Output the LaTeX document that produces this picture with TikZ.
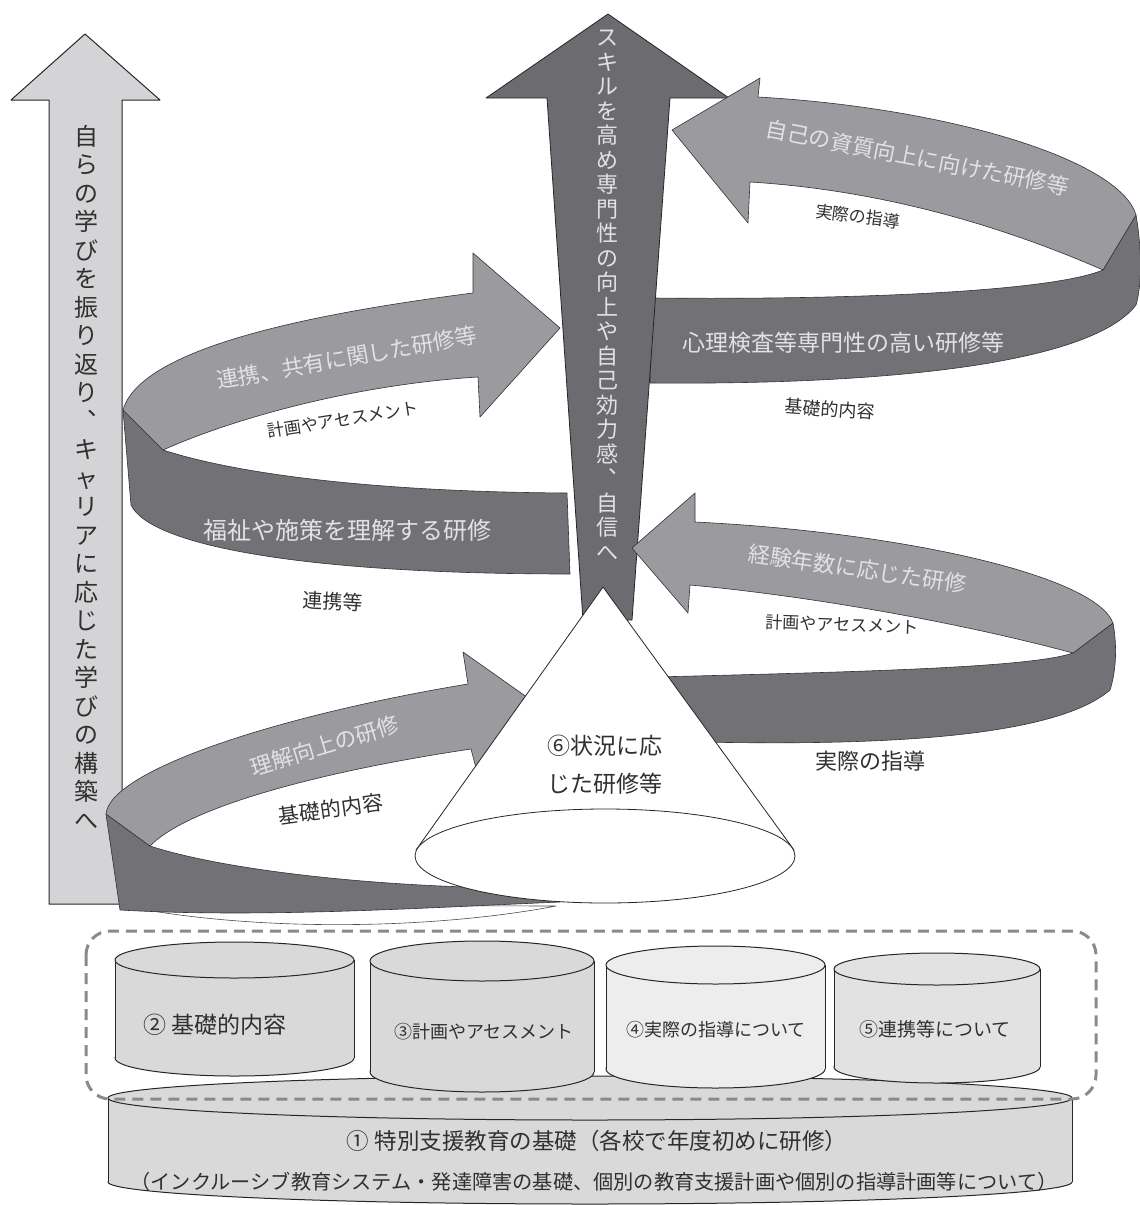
\documentclass[tikz,border=0pt]{standalone}
\usepackage{fontspec}
\setmainfont{Noto Sans CJK JP}
\usetikzlibrary{positioning}
\definecolor{sidegray}{HTML}{D4D4D6}
\definecolor{spinegray}{HTML}{6C6C70}
\definecolor{frontgray}{HTML}{9B9B9F}
\definecolor{backgray}{HTML}{727276}
\definecolor{inkgray}{HTML}{303030}
\definecolor{palegray}{HTML}{E2E2E2}
\definecolor{dashgray}{HTML}{8A8A8A}
\definecolor{drumA}{HTML}{D9D9D9}
\definecolor{drumB}{HTML}{EDEDED}
\definecolor{drumC}{HTML}{E2E2E2}
\newcommand\vcomma{\makebox[1em][l]{\hspace{.55em}\raisebox{.6em}{、}}}
\newcommand\fs[1]{\fontsize{#1}{#1}\selectfont}
% drum: left, right, top centre y, bottom centre y, y radius, fill
\newcommand\drum[6]{%
  \path[fill=#6,draw=black!85,line width=1pt] ({(#1+#2)/2},#4) ellipse[x radius={(#2-#1)/2},y radius=#5];
  \fill[#6] (#1,#3) rectangle (#2,#4);
  \draw[black!85,line width=1pt] (#1,#3)--(#1,#4) (#2,#3)--(#2,#4);
  \path[fill=#6,draw=black!85,line width=1pt] ({(#1+#2)/2},#3) ellipse[x radius={(#2-#1)/2},y radius=#5];}

\begin{document}
\begin{tikzpicture}[x=1pt,y=-1pt,line join=round,font=\fs{20},
  arrowline/.style={draw=black!85,line width=1pt},
  backband/.style={fill=backgray,draw=black!80,line width=.6pt},
  frontband/.style={fill=frontgray,draw=black!80,line width=.6pt},
  vcol/.style={inner sep=0pt,align=center},
  pale/.style={text=palegray,inner sep=0pt,text height=14pt,text depth=2pt},
  ink/.style={text=inkgray,inner sep=0pt,text height=14pt,text depth=2pt}]
\useasboundingbox (0,0) rectangle (1140,1205);

% left arrow
\path[fill=sidegray,arrowline] (85,34) -- (160,100) -- (122,100) -- (122,904) -- (49,904) -- (49,100) -- (11,100) -- cycle;
\node[vcol,text=inkgray,font=\fontsize{24}{28.5}\selectfont] (rise) at (86,477)
  {自\\ら\\の\\学\\び\\を\\振\\り\\返\\り\\\vcomma\\キ\\ャ\\リ\\ア\\に\\応\\じ\\た\\学\\び\\の\\構\\築\\へ};

% back halves of the ribbons
\path[fill=white,draw=black!70,line width=.6pt] (120,905) .. controls (250,932) and (430,930) .. (556,906) -- cycle;
\path[backband] (106,814) -- (120,910) .. controls (260,918) and (420,908) .. (560,902) -- (560,888) .. controls (400,890) and (230,872) .. (150,846) -- cycle;
\path[backband] (123,410) -- (131,505) .. controls (150,545) and (300,574) .. (570,574) -- (567,493) .. controls (400,492) and (250,478) .. (163,450) -- cycle;
\path[backband] (1136,215) .. controls (1142,250) and (1142,285) .. (1136,305) .. controls (1090,365) and (880,385) .. (650,383) -- (653,298) .. controls (850,300) and (1050,292) .. (1103,270) -- cycle;
\path[backband] (1113,623) .. controls (1118,650) and (1115,675) .. (1110,690) .. controls (1050,742) and (850,745) .. (700,742) -- (655,677) .. controls (850,672) and (1030,668) .. (1073,653) -- cycle;

% central arrow
\path[fill=spinegray,arrowline,line width=.8pt] (608,14) -- (729,98) -- (670,98) -- (632,620) -- (583,620) -- (547,98) -- (486,98) -- cycle;
\node[vcol,text=palegray,font=\fontsize{22}{24.5}\selectfont] (skill) at (607,295)
  {ス\\キ\\ル\\を\\高\\め\\専\\門\\性\\の\\向\\上\\や\\自\\己\\効\\力\\感\\\vcomma\\自\\信\\へ};

% front halves with heads
\path[frontband] (106,814) .. controls (110,770) and (280,715) .. (468,684) -- (463,652) -- (548,712) -- (476,768) -- (471,749) .. controls (330,770) and (190,805) .. (150,846) -- cycle;
\path[frontband] (123,410) .. controls (140,350) and (300,315) .. (473,293) -- (473,253) -- (560,328) -- (480,417) -- (478,377) .. controls (350,385) and (230,420) .. (163,450) -- cycle;
\path[frontband] (758,97) .. controls (950,108) and (1120,160) .. (1136,215) -- (1103,270) .. controls (1000,225) and (880,190) .. (750,182) -- (748,223) -- (672,130) -- (760,78) -- cycle;
\path[frontband] (695,522) .. controls (900,532) and (1095,575) .. (1113,623) -- (1073,653) .. controls (950,620) and (800,595) .. (690,585) -- (688,613) -- (632,548) -- (695,493) -- cycle;

% cone
\path[fill=white,draw=black!85,line width=.8pt] (416,850) -- (603,587) -- (794,850) -- cycle;
\path[fill=white,draw=black!85,line width=.8pt] (605,856) ellipse[x radius=190,y radius=47];
\node[ink,font=\fs{23}] (cone1) at (605,748) {⑥状況に応};
\node[ink,font=\fs{23},below=22pt of cone1] (cone2) {じた研修等};

% ribbon labels
\node[pale,font=\fs{22},rotate=17] (grasp) at (325,748) {理解向上の研修};
\node[ink,font=\fs{21},rotate=8] (basicA) at (331,811) {基礎的内容};
\node[pale,font=\fs{22},rotate=10] (share) at (347,360) {連携、共有に関した研修等};
\node[ink,font=\fs{17},rotate=9] (planB) at (343,420) {計画やアセスメント};
\node[pale,font=\fs{24}] (welfare) at (347,533) {福祉や施策を理解する研修};
\node[ink,font=\fs{20},rotate=-3] (linkB) at (333,603) {連携等};
\node[pale,font=\fs{22},rotate=-11] (self) at (917,160) {自己の資質向上に向けた研修等};
\node[ink,font=\fs{17},rotate=-7] (practC) at (858,217) {実際の指導};
\node[pale,font=\fs{23}] (psych) at (843,345) {心理検査等専門性の高い研修等};
\node[ink,font=\fs{18},rotate=-4] (basicC) at (830,410) {基礎的内容};
\node[pale,font=\fs{22},rotate=-8] (years) at (857,571) {経験年数に応じた研修};
\node[ink,font=\fs{17},rotate=-2] (planD) at (842,625) {計画やアセスメント};
\node[ink,font=\fs{22}] (practD) at (870,763) {実際の指導};

% foundation drums
\drum{108}{1072}{1098}{1182}{22}{drumA}
\drum{115}{354}{960}{1058}{18}{drumA}
\drum{370}{594}{961}{1072}{20}{drumA}
\drum{606}{825}{965}{1069}{19}{drumB}
\drum{834}{1040}{969}{1067}{16}{drumC}
\draw[dashgray,line width=3pt,dash pattern=on 11pt off 7pt,rounded corners=24pt] (86,931) rectangle (1096,1099);
\node[ink,font=\fs{23}] (base2) at (215,1027) {② 基礎的内容};
\node[ink,font=\fs{18}] (base3) at (484,1032) {③計画やアセスメント};
\node[ink,font=\fs{18}] (base4) at (716,1030) {④実際の指導について};
\node[ink,font=\fs{19}] (base5) at (935,1030) {⑤連携等について};
\node[ink,font=\fs{22.5}] (found) at (597,1143) {① 特別支援教育の基礎（各校で年度初めに研修）};
\node[ink,font=\fs{20.2}] (foundnote) at (594,1183) {（インクルーシブ教育システム・発達障害の基礎、個別の教育支援計画や個別の指導計画等について）};
\end{tikzpicture}
\end{document}
